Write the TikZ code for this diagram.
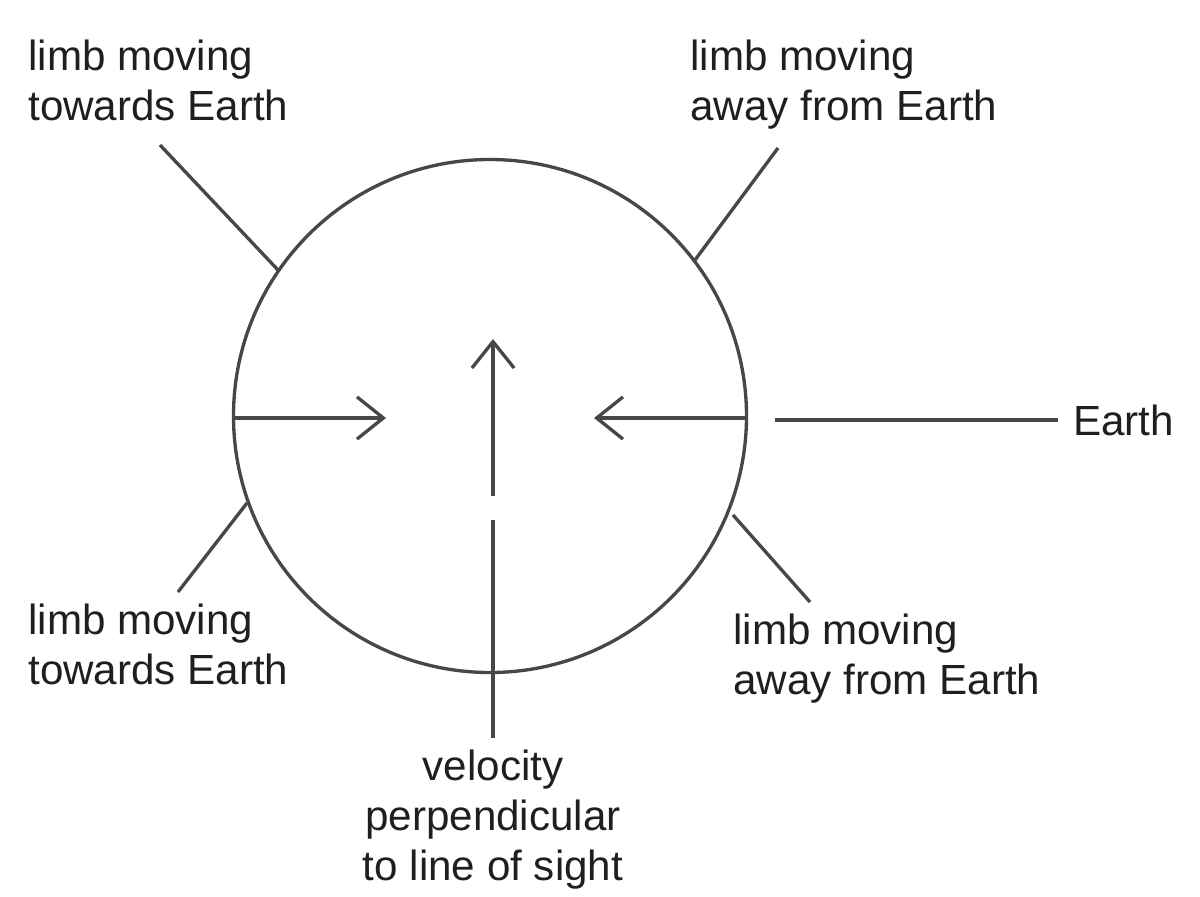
\documentclass[tikz,border=0pt]{standalone}
\usepackage{fontspec}
\setmainfont{Liberation Sans}
\usetikzlibrary{arrows.meta}
\begin{document}
\begin{tikzpicture}[x=0.02cm,y=-0.02cm,
  ln/.style={draw=black!72,line width=1.9pt},
  arr/.style={ln,-{Straight Barb[length=15pt,width=24pt,line width=1.9pt]}},
  lbl/.style={font=\fontsize{24}{28.3}\selectfont,text=black!88,align=left,inner sep=0pt},
  lblc/.style={lbl,align=center}]
\useasboundingbox (0,0) rectangle (1200,896);
\node[ln,circle,minimum size=513*0.02cm,inner sep=0pt] (C) at (490,416) {};
\coordinate (L) at (233,418); \coordinate (La) at (386,418);
\coordinate (R) at (746,418); \coordinate (Ra) at (594,418);
\draw[arr] (L) -- (La);
\draw[arr] (R) -- (Ra);
\coordinate (V1) at (493,496); \coordinate (V2) at (493,339);
\draw[arr] (V1) -- (V2);
\coordinate (V3) at (493,520); \coordinate (V4) at (493,738);
\draw[ln] (V3) -- (V4);
\coordinate (E1) at (775,420); \coordinate (E2) at (1058,420);
\draw[ln] (E1) -- (E2);
\node[lbl,anchor=west] (earth) at (1073,420) {Earth};
\node[lbl,anchor=north west] (tl) at (28,40) {limb moving\\towards Earth};
\node[lbl,anchor=north west] (tr) at (690,40) {limb moving\\away from Earth};
\node[lbl,anchor=north west] (bl) at (28,604) {limb moving\\towards Earth};
\node[lbl,anchor=north west] (br) at (733,614) {limb moving\\away from Earth};
\node[lblc,anchor=north] (v) at (493,750) {velocity\\perpendicular\\to line of sight};
\coordinate (a1) at (160,145); \coordinate (a2) at (278,270);
\coordinate (b1) at (778,148); \coordinate (b2) at (695,260);
\coordinate (c1) at (178,592); \coordinate (c2) at (247,503);
\coordinate (d1) at (810,602); \coordinate (d2) at (733,515);
\draw[ln] (a1)--(a2); \draw[ln] (b1)--(b2); \draw[ln] (c1)--(c2); \draw[ln] (d1)--(d2);
\end{tikzpicture}
\end{document}
